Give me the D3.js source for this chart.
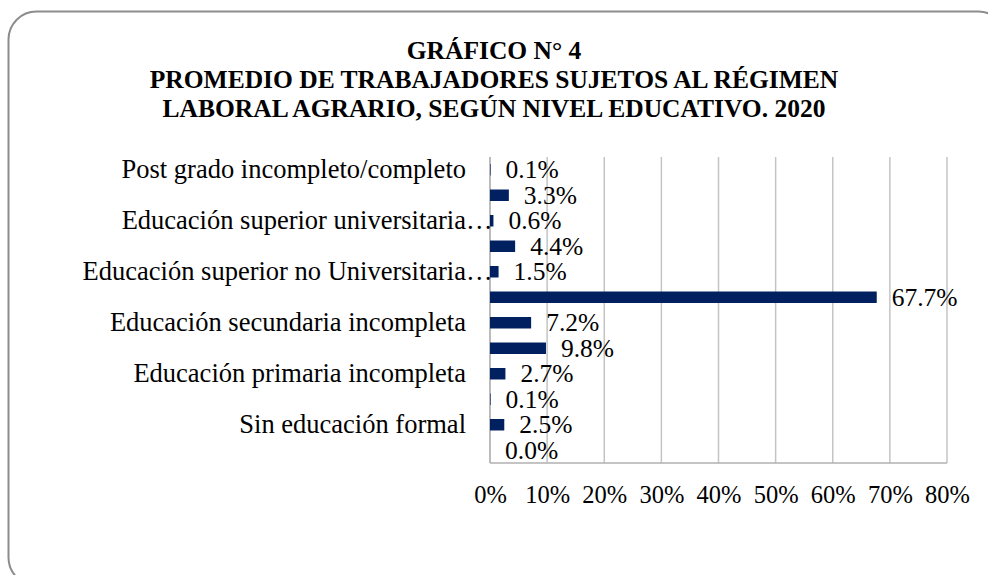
<!DOCTYPE html>
<html>
<head>
<meta charset="utf-8">
<script src="https://cdn.jsdelivr.net/npm/d3@7"></script>
<style>
  body { margin: 0; background: #fff; }
  svg { display: block; }
</style>
</head>
<body>
<svg id="chart" width="988" height="575"></svg>
<script>
// categories top to bottom (only every other one gets a visible label)
var categories = [
  "Post grado incompleto/completo",
  "Educación superior universitaria completa",
  "Educación superior universitaria incompleta",
  "Educación superior no Universitaria completa",
  "Educación superior no Universitaria incompleta",
  "Educación secundaria completa",
  "Educación secundaria incompleta",
  "Educación primaria completa",
  "Educación primaria incompleta",
  "Educación inicial",
  "Sin educación formal",
  "No especificado"
];
var axisLabels = [
  "Post grado incompleto/completo", "",
  "Educación superior universitaria…", "",
  "Educación superior no Universitaria…", "",
  "Educación secundaria incompleta", "",
  "Educación primaria incompleta", "",
  "Sin educación formal", ""
];
var values = [0.001, 0.033, 0.006, 0.044, 0.015, 0.677, 0.072, 0.098, 0.027, 0.001, 0.025, 0.0];
var tickValues = [0, 0.1, 0.2, 0.3, 0.4, 0.5, 0.6, 0.7, 0.8];
var titleLines = [
  "GRÁFICO N° 4",
  "PROMEDIO DE TRABAJADORES SUJETOS AL RÉGIMEN",
  "LABORAL AGRARIO, SEGÚN NIVEL EDUCATIVO. 2020"
];

var font = "'Liberation Serif', 'Times New Roman', Tinos, serif";

var dimensions = {
  width: 988,
  height: 575,
  plot: { left: 490, right: 947, top: 157, bottom: 463 }
};

var svg = d3.select("#chart");

// rounded frame, runs off the right and bottom edges
svg.append("rect")
  .attr("x", 8.5)
  .attr("y", 11.5)
  .attr("width", 998)
  .attr("height", 574)
  .attr("rx", 28)
  .attr("fill", "none")
  .attr("stroke", "#8c8c8c")
  .attr("stroke-width", 2);

// title
svg.append("g")
  .selectAll("text")
  .data(titleLines)
  .enter()
  .append("text")
  .attr("x", dimensions.width / 2)
  .attr("y", (d, i) => 59 + i * 28.8)
  .attr("text-anchor", "middle")
  .style("font-family", font)
  .style("font-size", "25.5px")
  .style("font-weight", "bold")
  .text((d) => d);

var xScale = d3.scaleLinear()
  .domain([0, 0.8])
  .range([dimensions.plot.left, dimensions.plot.right]);

var yScale = d3.scaleBand()
  .domain(categories)
  .range([dimensions.plot.top, dimensions.plot.bottom])
  .paddingInner(0.55)
  .paddingOuter(0.275);

// vertical gridlines
svg.append("g")
  .selectAll("line")
  .data(tickValues.slice(1))
  .enter()
  .append("line")
  .attr("x1", (d) => xScale(d))
  .attr("x2", (d) => xScale(d))
  .attr("y1", dimensions.plot.top)
  .attr("y2", dimensions.plot.bottom)
  .attr("stroke", "#c4c4c4")
  .attr("stroke-width", 1.5);

// axis lines
svg.append("line")
  .attr("x1", xScale(0))
  .attr("x2", xScale(0))
  .attr("y1", dimensions.plot.top)
  .attr("y2", dimensions.plot.bottom)
  .attr("stroke", "#a6a6a6")
  .attr("stroke-width", 1.5);
svg.append("line")
  .attr("x1", xScale(0))
  .attr("x2", xScale(0.8))
  .attr("y1", dimensions.plot.bottom)
  .attr("y2", dimensions.plot.bottom)
  .attr("stroke", "#b0b0b0")
  .attr("stroke-width", 1.5);

// x tick labels
var xAxis = d3.axisBottom(xScale)
  .tickValues(tickValues)
  .tickFormat(d3.format(".0%"))
  .tickSize(0)
  .tickPadding(0);

var xAxisG = svg.append("g")
  .attr("transform", "translate(0," + dimensions.plot.bottom + ")")
  .call(xAxis)
  .attr("font-family", null)
  .attr("font-size", null);
xAxisG.select(".domain").remove();
xAxisG.selectAll("text")
  .attr("y", 40)
  .attr("dy", 0)
  .attr("fill", "#000")
  .style("font-family", font)
  .style("font-size", "24.5px");

// category labels
var labelX = 466;
var labelG = svg.append("g");
categories.forEach(function (c, i) {
  var lbl = axisLabels[i];
  if (!lbl) return;
  var y = yScale(c) + yScale.bandwidth() / 2 + 8;
  var truncated = lbl.endsWith("…");
  labelG.append("text")
    .attr("x", labelX)
    .attr("y", y)
    .attr("text-anchor", "end")
    .style("font-family", font)
    .style("font-size", "26.5px")
    .text(truncated ? lbl.slice(0, -1) : lbl);
  if (truncated) {
    labelG.append("text")
      .attr("x", labelX)
      .attr("y", y)
      .style("font-family", font)
      .style("font-size", "26.5px")
      .text("…");
  }
});

// bars
svg.append("g")
  .selectAll("rect")
  .data(values)
  .enter()
  .append("rect")
  .attr("x", xScale(0))
  .attr("y", (d, i) => yScale(categories[i]))
  .attr("width", (d) => xScale(d) - xScale(0))
  .attr("height", yScale.bandwidth())
  .attr("fill", "#002060");

// data labels
svg.append("g")
  .selectAll("text")
  .data(values)
  .enter()
  .append("text")
  .attr("x", (d) => xScale(d) + 15)
  .attr("y", (d, i) => yScale(categories[i]) + yScale.bandwidth() / 2 + 8.5)
  .style("font-family", font)
  .style("font-size", "25.5px")
  .text((d) => d3.format(".1%")(d));
</script>
</body>
</html>
